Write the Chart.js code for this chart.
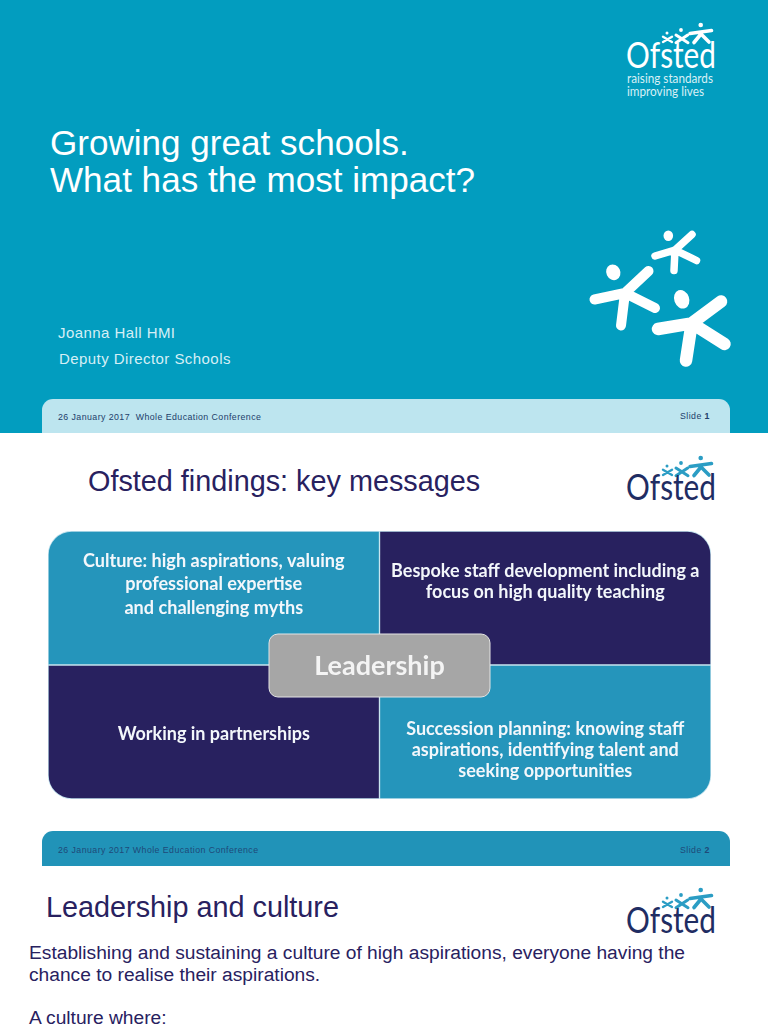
<!DOCTYPE html>
<html lang="en">
<head>
<meta charset="utf-8">
<title>Growing great schools</title>
<script src="https://cdn.jsdelivr.net/npm/chart.js@4"></script>
<style>
html,body{margin:0;padding:0;background:#fff;}
body{width:768px;height:1024px;position:relative;overflow:hidden;font-family:"Liberation Sans",Arial,sans-serif;}
.a{position:absolute;white-space:nowrap;line-height:1;}
#cover{position:absolute;left:0;top:0;width:768px;height:433px;background:#029dbf;}
.bar{position:absolute;left:42px;width:688px;border-radius:11px 11px 0 0;}
.foot{font-size:8.8px;letter-spacing:.43px;}
.navy{color:#28215f;}
#wrap{position:absolute;left:44px;top:527px;width:671px;height:276px;}
svg{position:absolute;left:0;top:0;}
</style>
</head>
<body>
<div id="cover"></div>
<div class="bar" style="top:399px;height:34px;background:#bde5ef;"></div>
<div class="bar" style="top:831px;height:35px;background:#2193b8;"></div>

<div class="a" style="left:50px;top:125px;font-size:35.1px;color:#fff;">Growing great schools.</div>
<div class="a" style="left:50px;top:162px;font-size:35.1px;color:#fff;">What has the most impact?</div>
<div class="a" style="left:58px;top:325px;font-size:15px;letter-spacing:.44px;color:#d6eff6;">Joanna Hall HMI</div>
<div class="a" style="left:59px;top:351px;font-size:15px;letter-spacing:.44px;color:#d6eff6;">Deputy Director Schools</div>

<div class="a foot" style="left:58px;top:413px;color:#22406a;">26 January 2017&nbsp; Whole Education Conference</div>
<div class="a foot" style="left:680px;top:412px;color:#22406a;">Slide <b>1</b></div>

<div class="a navy" style="left:88px;top:467px;font-size:28.8px;">Ofsted findings: key messages</div>

<div class="a foot" style="left:58px;top:846px;color:#1f4a78;letter-spacing:.43px;">26 January 2017 Whole Education Conference</div>
<div class="a foot" style="left:680px;top:846px;color:#1f4a78;">Slide <b>2</b></div>

<div class="a navy" style="left:46px;top:893px;font-size:28.8px;">Leadership and culture</div>
<div class="a navy" style="left:29px;top:943px;font-size:19.2px;">Establishing and sustaining a culture of high aspirations, everyone having the</div>
<div class="a navy" style="left:29px;top:965px;font-size:19.2px;">chance to realise their aspirations.</div>
<div class="a navy" style="left:29px;top:1008px;font-size:19.2px;">A culture where:</div>

<svg width="768" height="1024" viewBox="0 0 768 1024" xmlns="http://www.w3.org/2000/svg" style="pointer-events:none">
  <defs>
    <g id="stars" stroke-linecap="round" fill="currentColor" stroke="currentColor">
      <g stroke-width="2.4">
        <circle cx="667" cy="33" r="1.5" stroke="none"/>
        <path d="M663 36.7L672 42M663 42L672 36.7" fill="none"/>
      </g>
      <g stroke-width="3">
        <circle cx="681" cy="30" r="1.9" stroke="none"/>
        <path d="M676 35L688 42.7M676 42.7L687.7 35" fill="none"/>
      </g>
      <g stroke-width="3.6">
        <circle cx="700.7" cy="25" r="2.3" stroke="none"/>
        <path d="M690 33.5L711.5 30.5M701 34L694 42.5M701 34L709 42" fill="none"/>
      </g>
    </g>
  </defs>
  <use href="#stars" style="color:#ffffff"/>
  <text x="626" y="68" font-family="Lato, sans-serif" font-size="37" fill="#fff" textLength="90" lengthAdjust="spacingAndGlyphs">Ofsted</text>
  <text x="627" y="83" font-family="Lato, sans-serif" font-size="12.4" fill="#d8f0f6" textLength="86" lengthAdjust="spacingAndGlyphs">raising standards</text>
  <text x="627" y="96" font-family="Lato, sans-serif" font-size="12.4" fill="#d8f0f6" textLength="77" lengthAdjust="spacingAndGlyphs">improving lives</text>

  <g fill="#fff" stroke="#fff" stroke-linecap="round">
    <ellipse cx="668.3" cy="235.7" rx="4.8" ry="5.2" stroke="none"/>
    <path d="M655 256L675 250M692 234.5L675 250M696.5 260.5L675 250M674 270.5L675 250" fill="none" stroke-width="7.5"/>
    <ellipse cx="613.3" cy="272.3" rx="7" ry="8" stroke="none" transform="rotate(-25 613.3 272.3)"/>
    <path d="M594.5 299.5L625 293M648.5 271L625 293M655 308L625 293M621 325.5L625 293" fill="none" stroke-width="10"/>
    <ellipse cx="681.7" cy="299.3" rx="7.5" ry="9.5" stroke="none" transform="rotate(-20 681.7 299.3)"/>
    <path d="M658 329L691.7 323.3M721 301.5L691.7 323.3M724.5 344L691.7 323.3M686 360.5L691.7 323.3" fill="none" stroke-width="12.5"/>
  </g>

  <g transform="translate(0,433)"><use href="#stars" style="color:#2b9dc4"/></g>
  <text x="626" y="500" font-family="Lato, sans-serif" font-size="37" fill="#1f2d63" textLength="90" lengthAdjust="spacingAndGlyphs">Ofsted</text>
  <g transform="translate(0,865)"><use href="#stars" style="color:#2b9dc4"/></g>
  <text x="626" y="933" font-family="Lato, sans-serif" font-size="37" fill="#1f2d63" textLength="90" lengthAdjust="spacingAndGlyphs">Ofsted</text>
</svg>

<div id="wrap"><canvas id="c" width="671" height="276"></canvas></div>

<script>
const categories = ["Left column", "Right column"];
const topRowValues = [1, 1];
const bottomRowValues = [1, 1];
const centreLabel = "Leadership";
const topLeftLines = ["Culture: high aspirations, valuing", "professional expertise", "and challenging myths"];
const topRightLines = ["Bespoke staff development including a", "focus on high quality teaching"];
const bottomLeftLines = ["Working in partnerships"];
const bottomRightLines = ["Succession planning: knowing staff", "aspirations, identifying talent and", "seeking opportunities"];

const TEAL = "#2595bb", NAVY = "#28215f", EDGE = "#c4e3ee";
const R = 24;

const quadrantText = [
  {lines: topLeftLines,     col: 0, size: 18.1, step: 23.5, firstY: 561},
  {lines: topRightLines,    col: 1, size: 18,   step: 21,   firstY: 571},
  {lines: bottomLeftLines,  col: 0, size: 18,   step: 21,   firstY: 734},
  {lines: bottomRightLines, col: 1, size: 18,   step: 21,   firstY: 729}
];

const labelPlugin = {
  id: "quadrantLabels",
  afterDatasetsDraw(chart) {
    const ctx = chart.ctx, x = chart.scales.x;
    const canvasTop = 527;
    ctx.save();
    ctx.textAlign = "center";
    ctx.textBaseline = "middle";
    ctx.fillStyle = "#f3f7fb";
    quadrantText.forEach(q => {
      ctx.font = "bold " + q.size + "px Lato, sans-serif";
      q.lines.forEach((t, i) => {
        ctx.fillText(t, x.getPixelForValue(q.col), q.firstY - canvasTop + i * q.step);
      });
    });
    const cx = x.getPixelForValue(0.5), cy = chart.scales.y.getPixelForValue(1);
    ctx.beginPath();
    ctx.roundRect(cx - 110.5, cy - 31, 221, 63, 9);
    ctx.fillStyle = "#a6a6a6";
    ctx.fill();
    ctx.strokeStyle = "#e4e4e4";
    ctx.lineWidth = 1;
    ctx.stroke();
    ctx.fillStyle = "#f4f4f4";
    ctx.font = "bold 27px Lato, sans-serif";
    ctx.fillText(centreLabel, cx, cy + 1);
    ctx.restore();
  }
};

new Chart(document.getElementById("c"), {
  type: "bar",
  data: {
    labels: categories,
    datasets: [
      {
        label: "Bottom row",
        data: bottomRowValues,
        backgroundColor: [NAVY, TEAL],
        borderColor: EDGE,
        borderWidth: 1,
        borderSkipped: false,
        borderRadius: c => c.dataIndex === 0
          ? {topLeft: 0, topRight: 0, bottomLeft: R, bottomRight: 0}
          : {topLeft: 0, topRight: 0, bottomLeft: 0, bottomRight: R}
      },
      {
        label: "Top row",
        data: topRowValues,
        backgroundColor: [TEAL, NAVY],
        borderColor: EDGE,
        borderWidth: 1,
        borderSkipped: false,
        borderRadius: c => c.dataIndex === 0
          ? {topLeft: R, topRight: 0, bottomLeft: 0, bottomRight: 0}
          : {topLeft: 0, topRight: R, bottomLeft: 0, bottomRight: 0}
      }
    ]
  },
  options: {
    responsive: false,
    animation: false,
    devicePixelRatio: 1,
    layout: {padding: {left: 4, right: 4, top: 4, bottom: 4}},
    datasets: {bar: {categoryPercentage: 1, barPercentage: 1}},
    plugins: {legend: {display: false}, tooltip: {enabled: false}, title: {display: false}},
    scales: {
      x: {stacked: true, display: false},
      y: {stacked: true, display: false, min: 0, max: 2}
    }
  },
  plugins: [labelPlugin]
});
</script>
</body>
</html>
